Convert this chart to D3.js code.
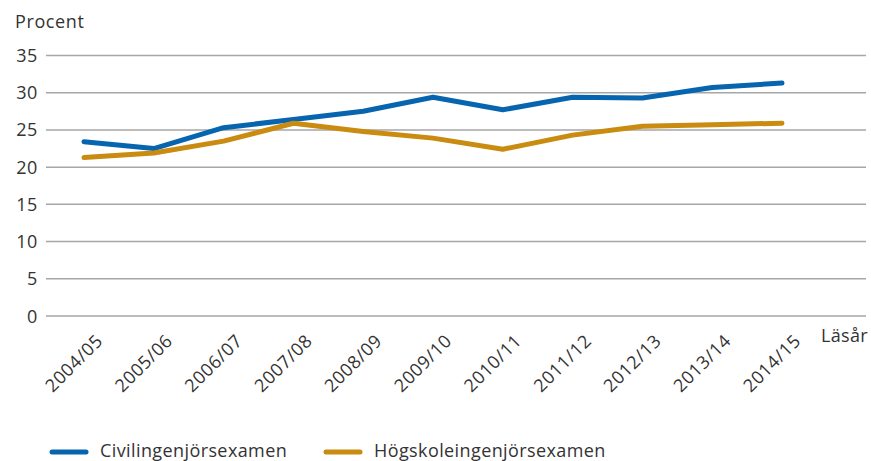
<!DOCTYPE html>
<html><head><meta charset="utf-8">
<script src="https://cdn.jsdelivr.net/npm/d3@7"></script>
<style>body{margin:0;background:#fff}svg{display:block}text{font-family:"Open Sans",Lato,sans-serif;fill:#333}</style>
</head><body><svg id="c" width="871" height="461"></svg>
<script>
const categories = ["2004/05","2005/06","2006/07","2007/08","2008/09","2009/10","2010/11","2011/12","2012/13","2013/14","2014/15"];
const civil = [23.4,22.5,25.3,26.4,27.5,29.4,27.7,29.4,29.3,30.7,31.3];
const hogskole = [21.3,21.9,23.5,25.9,24.8,23.9,22.4,24.3,25.5,25.7,25.9];
const yTicks = [0,5,10,15,20,25,30,35];
const seriesNames = ["Civilingenjörsexamen","Högskoleingenjörsexamen"];
const colors = ["#0765b0","#c98b10"];

const svg = d3.select("#c");
const x = d3.scalePoint().domain(categories).range([84,782]);
const y = d3.scaleLinear().domain([0,35]).range([316,55.5]);

// grid
svg.append("g").selectAll("line").data(yTicks).join("line")
  .attr("x1",46).attr("x2",866).attr("y1",d=>y(d)).attr("y2",d=>y(d))
  .attr("stroke","#a6a6a6").attr("stroke-width",1.5);
// y labels
svg.append("g").selectAll("text").data(yTicks).join("text")
  .attr("x",38).attr("y",d=>y(d)+6.5).attr("text-anchor","end")
  .attr("font-size",18).attr("letter-spacing",0.6).text(d=>d);
svg.append("text").attr("x",15).attr("y",28).attr("font-size",18).attr("letter-spacing",0.6).text("Procent");
// x labels
svg.append("g").selectAll("text").data(categories).join("text")
  .attr("text-anchor","end").attr("font-size",18).attr("letter-spacing",0.6)
  .attr("transform",d=>`translate(${x(d)+20},${342}) rotate(-45)`)
  .text(d=>d);
svg.append("text").attr("x",821).attr("y",342).attr("font-size",18).attr("letter-spacing",0.3).text("Läsår");

const line = d3.line().x((d,i)=>x(categories[i])).y(d=>y(d));
[civil,hogskole].forEach((s,i)=>{
  svg.append("path").datum(s).attr("d",line).attr("fill","none")
    .attr("stroke",colors[i]).attr("stroke-width",5)
    .attr("stroke-linecap","round").attr("stroke-linejoin","round");
});
// legend
const lx = [52,326];
seriesNames.forEach((n,i)=>{
  svg.append("line").attr("x1",lx[i]).attr("x2",lx[i]+34).attr("y1",452).attr("y2",452)
    .attr("stroke",colors[i]).attr("stroke-width",5).attr("stroke-linecap","round");
  svg.append("text").attr("x",lx[i]+48).attr("y",457).attr("font-size",18).attr("letter-spacing",0.4).text(n);
});
</script></body></html>
